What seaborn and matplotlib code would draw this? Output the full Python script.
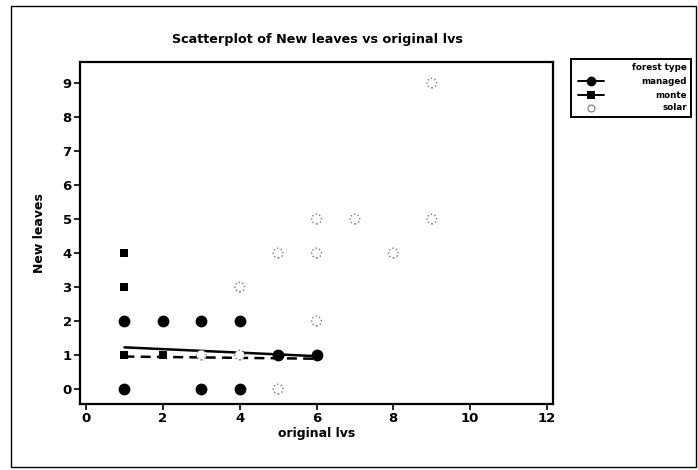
import matplotlib
matplotlib.use("Agg")
import matplotlib.pyplot as plt
import seaborn as sns
import pandas as pd
from matplotlib.lines import Line2D
from matplotlib.patches import Rectangle

# ---- data ----
original_managed = [1, 2, 3, 4, 1, 3, 4, 5, 6]
new_managed = [2, 2, 2, 2, 0, 0, 0, 1, 1]
original_monte = [1, 1, 1, 1, 1, 1, 1, 1, 2, 3, 3, 4, 4, 4, 5, 6]
new_monte = [4, 3, 1, 0, 0, 0, 0, 0, 1, 1, 0, 1, 0, 2, 1, 1]
original_solar = [3, 4, 5, 6, 4, 5, 6, 6, 7, 8, 9, 9]
new_solar = [1, 1, 0, 2, 3, 4, 4, 5, 5, 4, 5, 9]
forest_types = ["managed", "monte", "solar"]
x_ticks = [0, 2, 4, 6, 8, 10, 12]
y_ticks = [0, 1, 2, 3, 4, 5, 6, 7, 8, 9]

df_managed = pd.DataFrame({"original lvs": original_managed, "New leaves": new_managed})
df_monte = pd.DataFrame({"original lvs": original_monte, "New leaves": new_monte})
df_solar = pd.DataFrame({"original lvs": original_solar, "New leaves": new_solar})

sns.set_style("white")
plt.rcParams["font.family"] = ["DejaVu Sans"]
plt.rcParams["text.color"] = "black"
plt.rcParams["axes.labelcolor"] = "black"
plt.rcParams["xtick.color"] = "black"
plt.rcParams["ytick.color"] = "black"

W, H = 698, 470
fig = plt.figure(figsize=(W / 100, H / 100), dpi=100)
ax = fig.add_axes([80 / W, 1 - 404 / H, (553 - 80) / W, (404 - 62) / H])

# monte (squares, dashed fit)
sns.regplot(data=df_monte, x="original lvs", y="New leaves", ci=None, marker="s",
            color="black", ax=ax, truncate=True,
            scatter_kws=dict(s=36, linewidths=0, alpha=1, zorder=2),
            line_kws=dict(lw=1.8, ls=(0, (4, 2.5)), zorder=3))
# managed (circles, solid fit)
sns.regplot(data=df_managed, x="original lvs", y="New leaves", ci=None, marker="o",
            color="black", ax=ax, truncate=True,
            scatter_kws=dict(s=72, linewidths=0, alpha=1, zorder=2.5),
            line_kws=dict(lw=1.8, ls="-", zorder=3))
# solar (faint open symbols)
sc = ax.scatter(df_solar["original lvs"], df_solar["New leaves"], s=48, marker="o",
                facecolors="white", edgecolors="#7a7a7a", linewidths=1.0, zorder=4)
sc.set_linestyle(":")

ax.set_xlim(-0.156, 12.156)
ax.set_ylim(-0.44, 9.62)
ax.set_xticks(x_ticks)
ax.set_yticks(y_ticks)
ax.tick_params(axis="both", direction="out", length=4, width=1.2, labelsize=9.5,
               bottom=True, left=True, pad=2, colors="black")
for lab in ax.get_xticklabels() + ax.get_yticklabels():
    lab.set_fontweight("bold")
for s in ax.spines.values():
    s.set_linewidth(1.6)
    s.set_color("black")
ax.set_xlabel("original lvs", fontsize=9, fontweight="bold", labelpad=1)
ax.set_ylabel("New leaves", fontsize=9, fontweight="bold", labelpad=12)

fig.text(317 / W, 1 - 40 / H, "Scatterplot of New leaves vs original lvs",
         ha="center", va="center", fontsize=9.2, fontweight="bold")

# legend (drawn by hand)
def fx(px):
    return px / W

def fy(py):
    return 1 - py / H

fig.patches.append(Rectangle((fx(571), fy(117)), (691 - 571) / W, (117 - 59) / H,
                             transform=fig.transFigure, fill=False, lw=1.4,
                             edgecolor="black"))
fig.text(fx(687), fy(67), "forest type", ha="right", va="center", fontsize=6.3,
         fontweight="bold")
leg_rows = [(81, "-", "o", 7, "black"), (95, "-", "s", 6, "black"), (108, "none", "o", 5, "#7a7a7a")]
for (py, ls, mk, ms, col), name in zip(leg_rows, forest_types):
    filled = name != "solar"
    fig.lines.append(Line2D([fx(578), fx(604)], [fy(py), fy(py)], transform=fig.transFigure,
                            color="black", lw=1.4, ls=ls))
    fig.lines.append(Line2D([fx(591)], [fy(py)], transform=fig.transFigure, marker=mk,
                            markersize=ms, ls="none",
                            markerfacecolor=("black" if filled else "white"),
                            markeredgecolor=col, markeredgewidth=(0 if filled else 0.8)))
    fig.text(fx(687), fy(py), name, ha="right", va="center", fontsize=6.3,
             fontweight="bold")

# outer frame
fig.patches.append(Rectangle((fx(11), fy(467)), (696 - 11) / W, (467 - 6) / H,
                             transform=fig.transFigure, fill=False, lw=1.0,
                             edgecolor="black"))

fig.savefig("out.png", dpi=100)
